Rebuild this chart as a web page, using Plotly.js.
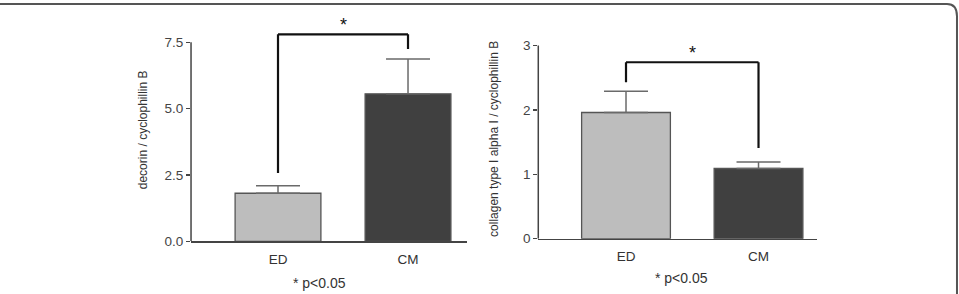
<!DOCTYPE html>
<html>
<head>
<meta charset="utf-8">
<script src="https://cdn.plot.ly/plotly-3.0.1.min.js"></script>
<style>html,body{margin:0;padding:0;background:#fff;}#chart{width:959px;height:294px;}</style>
</head>
<body>
<div id="chart"></div>
<script>
// ---- data ----
const categories = ['ED', 'CM'];
const decorinMean = [1.81, 5.56];
const decorinSEM = [0.28, 1.31];
const collagenMean = [1.96, 1.09];
const collagenSEM = [0.33, 0.10];
const barColors = ['#bdbdbd', '#404040'];
// significance bracket: [bracket level, left leg end, right leg end]
const decorinBracket = [7.80, 2.57, 7.25];
const collagenBracket = [2.74, 2.43, 1.41];
const sigLabel = '* p<0.05';
const decorinTicks = [0, 2.5, 5, 7.5];
const decorinTickText = ['0.0', '2.5', '5.0', '7.5'];
const collagenTicks = [0, 1, 2, 3];

const font = 'Liberation Sans, Arial, sans-serif';
const axisCol = '#444';
const xpos = categories.map((c, i) => i);

function barTrace(mean, sem, xa, ya, w) {
  return {
    type: 'bar', x: xpos, y: mean, xaxis: xa, yaxis: ya, width: w,
    marker: {color: barColors, line: {color: '#555', width: 1.3}},
    error_y: {type: 'data', array: sem, arrayminus: [0, 0], symmetric: false,
              color: '#6a6a6a', thickness: 1.5, width: 22},
    hoverinfo: 'skip', showlegend: false
  };
}

const traces = [
  barTrace(decorinMean, decorinSEM, 'x', 'y', 0.66),
  barTrace(collagenMean, collagenSEM, 'x2', 'y2', 0.67)
];

function bracket(b, xr, yr) {
  const st = {color: '#111', width: 2.2};
  return [
    {type: 'line', xref: xr, yref: yr, x0: 0, x1: 0, y0: b[1], y1: b[0], line: st},
    {type: 'line', xref: xr, yref: yr, x0: 0, x1: 1, y0: b[0], y1: b[0], line: st},
    {type: 'line', xref: xr, yref: yr, x0: 1, x1: 1, y0: b[0], y1: b[2], line: st}
  ];
}
function yLine(xr, yr, top) {
  return {type: 'line', xref: xr + ' domain', yref: yr, x0: 0, x1: 0, y0: 0, y1: top,
          line: {color: axisCol, width: 1.5}};
}

const xCommon = {
  type: 'linear', tickmode: 'array', tickvals: xpos, ticktext: categories,
  showline: true, linecolor: axisCol, linewidth: 1.5, ticks: '',
  showgrid: false, zeroline: false, fixedrange: true,
  tickfont: {family: font, size: 13.5, color: '#333'}, ticklabelstandoff: 5
};
const yCommon = {
  showline: false, ticks: 'outside',
  ticklen: 4, tickcolor: axisCol, tickwidth: 1.3, showgrid: false, zeroline: false,
  fixedrange: true, tickfont: {family: font, size: 13.5, color: '#444'}
};

// left: 0 at y=241.3px, 26.53 px per unit; range up to 8.4
// right: 0 at y=238.7px, 64.4 px per unit; range up to 3.1
const layout = {
  width: 959, height: 294, margin: {l: 0, r: 0, t: 0, b: 0},
  paper_bgcolor: '#fff', plot_bgcolor: 'rgba(0,0,0,0)',
  xaxis: Object.assign({}, xCommon, {domain: [0.1992, 0.4870], range: [-0.669, 1.454], anchor: 'y'}),
  yaxis: Object.assign({}, yCommon, {domain: [0.1793, (294 - 241.3 + 8.4 * 26.53) / 294], range: [0, 8.4], anchor: 'x',
    tickvals: decorinTicks, ticktext: decorinTickText,
    title: {text: 'decorin / cyclophillin B', font: {family: font, size: 12, color: '#333'}, standoff: 14}}),
  xaxis2: Object.assign({}, xCommon, {domain: [0.5613, 0.8516], range: [-0.662, 1.439], anchor: 'y2'}),
  yaxis2: Object.assign({}, yCommon, {domain: [0.1881, (294 - 238.7 + 3.1 * 64.4) / 294], range: [0, 3.1], anchor: 'x2',
    tickvals: collagenTicks,
    title: {text: 'collagen type I alpha I / cyclophillin B', font: {family: font, size: 12, color: '#333'}, standoff: 21}}),
  shapes: [].concat(
    [yLine('x', 'y', decorinTicks[3]), yLine('x2', 'y2', collagenTicks[3])],
    bracket(decorinBracket, 'x', 'y'),
    bracket(collagenBracket, 'x2', 'y2'),
    [{type: 'path', xref: 'paper', yref: 'paper',
      path: 'M 0 0.9864 L 0.9875 0.9864 Q 0.9979 0.9864 0.9979 0.945 L 0.9979 0',
      line: {color: '#555', width: 2}}]
  ),
  annotations: [
    {xref: 'x', yref: 'y', x: 0.5, y: decorinBracket[0], text: '*', showarrow: false,
     xanchor: 'center', yanchor: 'bottom', yshift: -3, font: {family: font, size: 18, color: '#111'}},
    {xref: 'x2', yref: 'y2', x: 0.5, y: collagenBracket[0], text: '*', showarrow: false,
     xanchor: 'center', yanchor: 'bottom', yshift: -3, font: {family: font, size: 18, color: '#111'}},
    {xref: 'paper', yref: 'paper', x: 319 / 959, y: 1 - 283 / 294, text: sigLabel,
     xanchor: 'center', yanchor: 'middle', showarrow: false, font: {family: font, size: 14, color: '#333'}},
    {xref: 'paper', yref: 'paper', x: 681 / 959, y: 1 - 278 / 294, text: sigLabel,
     xanchor: 'center', yanchor: 'middle', showarrow: false, font: {family: font, size: 14, color: '#333'}}
  ]
};

Plotly.newPlot('chart', traces, layout, {staticPlot: true, displayModeBar: false});
</script>
</body>
</html>
